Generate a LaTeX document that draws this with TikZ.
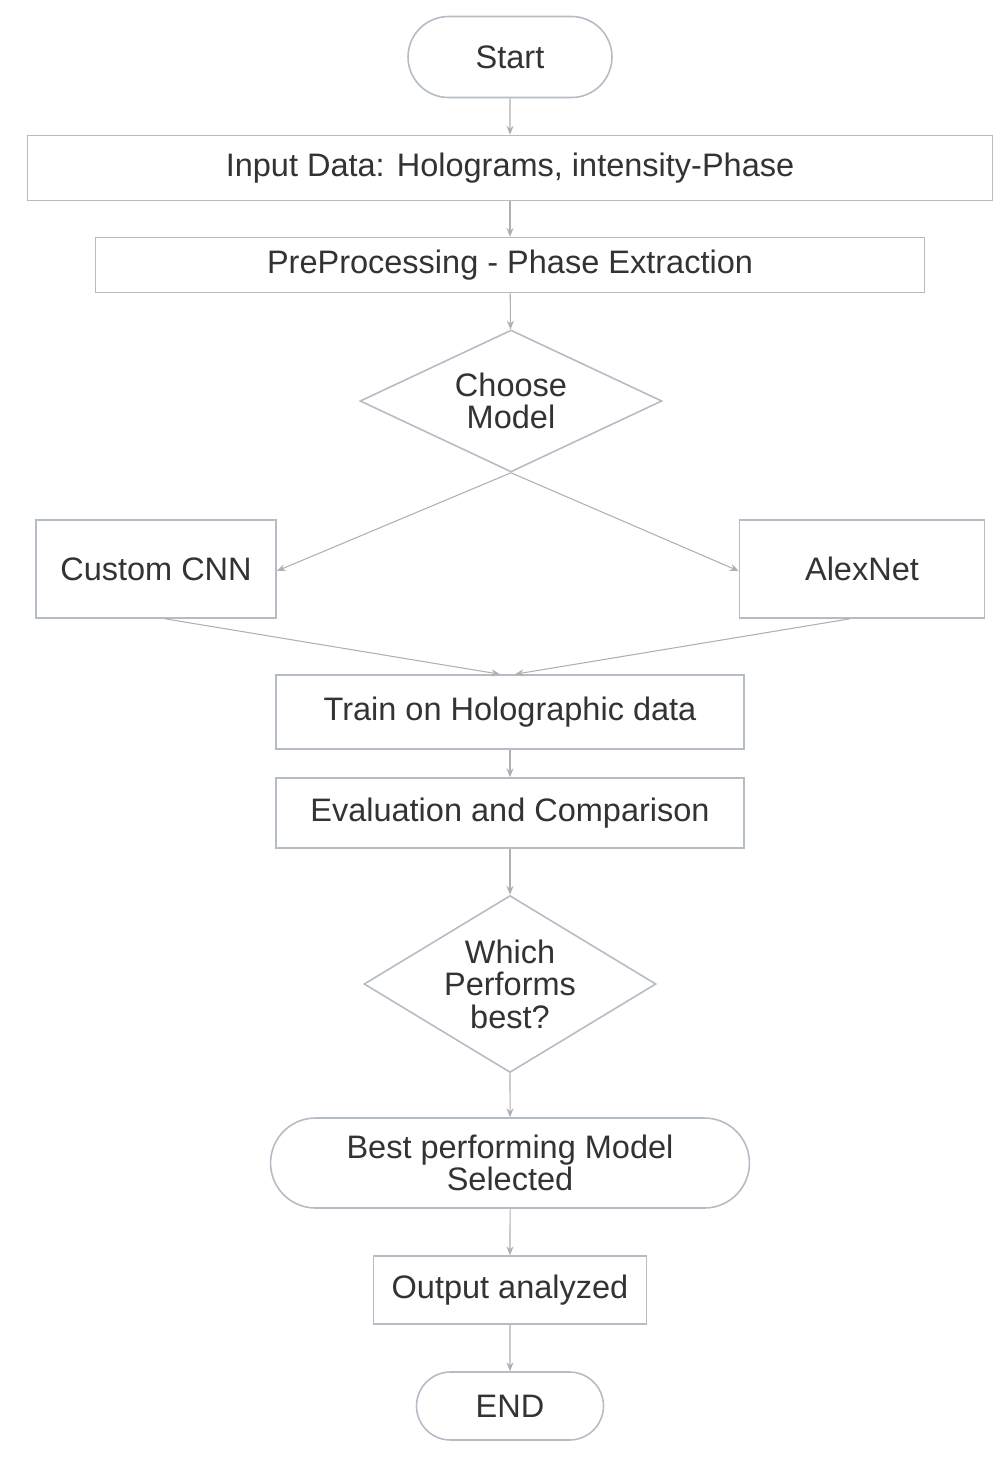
\documentclass[tikz,border=0pt]{standalone}
\usepackage{fontspec}
\setmainfont{Liberation Sans}
\usetikzlibrary{shapes.geometric,shapes.misc,arrows.meta}
\definecolor{boxline}{HTML}{B4BCC6}
\definecolor{arrowc}{HTML}{B0B0B0}
\definecolor{txt}{HTML}{333333}
\begin{document}
\begin{tikzpicture}[x=0.02cm,y=-0.02cm,
  base/.style={draw=boxline,line width=0.9pt,fill=white,text=txt,font=\fontsize{18.5}{18.5}\selectfont,align=center,inner sep=0pt},
  procbox/.style={base,rectangle},
  termbox/.style={base,rounded rectangle},
  decbox/.style={base,diamond},
  conn/.style={draw=arrowc,line width=0.6pt,-{Stealth[length=5pt,width=4pt]}}
]
\useasboundingbox (0,0) rectangle (1000,1461);
\fill[white] (0,0) rectangle (1000,1461);

\node[termbox,minimum width=4.08cm,minimum height=1.62cm] (start) at (510,57) {Start};
\node[procbox,minimum width=19.3cm,minimum height=1.3cm] (input) at (510,168) {Input Data: Holograms, intensity-Phase};
\node[procbox,minimum width=16.58cm,minimum height=1.1cm] (pre) at (510,265) {PreProcessing - Phase Extraction};
\node[decbox,shape aspect=2.1,minimum width=6.04cm,minimum height=2.84cm] (choose) at (511,401) {Choose\\Model};
\node[procbox,minimum width=4.8cm,minimum height=1.96cm] (cnn) at (156,569) {Custom CNN};
\node[procbox,minimum width=4.9cm,minimum height=1.96cm] (alex) at (862,569) {AlexNet};
\node[procbox,minimum width=9.36cm,minimum height=1.48cm] (train) at (510,712) {Train on Holographic data};
\node[procbox,minimum width=9.36cm,minimum height=1.4cm] (eval) at (510,813) {Evaluation and Comparison};
\node[decbox,shape aspect=1.65,minimum width=5.84cm,minimum height=3.54cm] (which) at (510,984) {Which\\Performs\\best?};
\node[termbox,minimum width=9.58cm,minimum height=1.8cm] (best) at (510,1163) {Best performing Model\\Selected};
\node[procbox,minimum width=5.46cm,minimum height=1.36cm] (out) at (510,1290) {Output analyzed};
\node[termbox,minimum width=3.74cm,minimum height=1.36cm] (endn) at (510,1406) {END};

\draw[conn] (start) -- (input);
\draw[conn] (input) -- (pre);
\draw[conn] (pre) -- (choose);
\draw[conn] (choose.south) -- ([yshift=-0.04cm]cnn.east);
\draw[conn] (choose.south) -- ([yshift=-0.04cm]alex.west);
\draw[conn] ([xshift=0.18cm]cnn.south) -- ([xshift=-0.2cm]train.north);
\draw[conn] ([xshift=-0.24cm]alex.south) -- ([xshift=0.1cm]train.north);
\draw[conn] (train) -- (eval);
\draw[conn] (eval) -- (which);
\draw[conn] (which) -- (best);
\draw[conn] (best) -- (out);
\draw[conn] (out) -- (endn);
\end{tikzpicture}
\end{document}
